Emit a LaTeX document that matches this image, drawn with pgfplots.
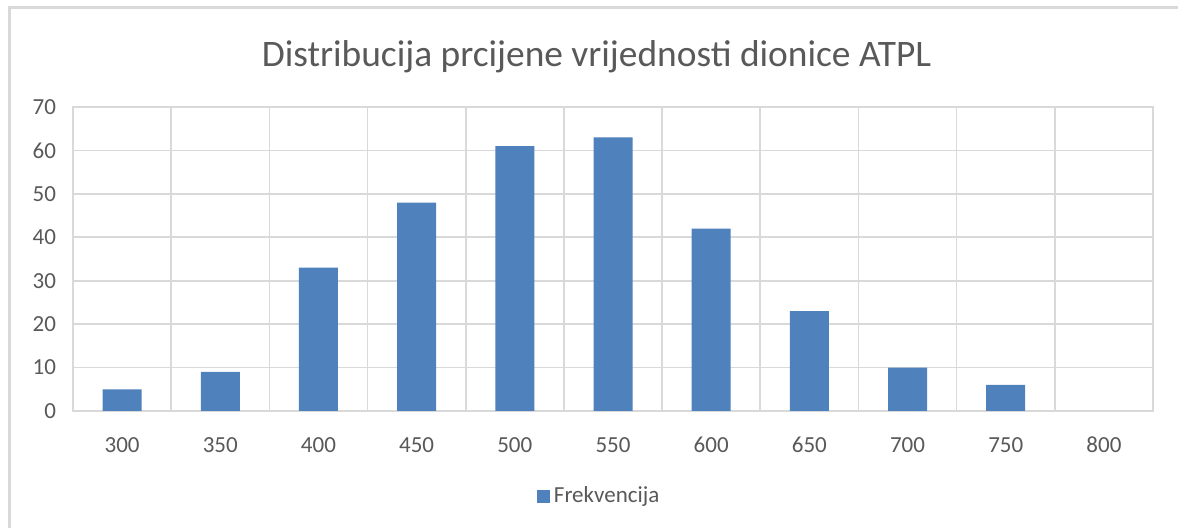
\documentclass[border=0pt]{standalone}
\usepackage{pgfplots}
\pgfplotsset{compat=1.18}
\usepackage{fontspec}
\setmainfont{Carlito}
\definecolor{barblue}{HTML}{4F81BD}
\definecolor{gridgray}{HTML}{D9D9D9}
\definecolor{txtgray}{HTML}{595959}
\begin{document}
\begin{tikzpicture}[x=0.5pt,y=0.5pt]
\path[use as bounding box] (0,0) rectangle (1178,528);
\fill[white] (0,0) rectangle (1178,528);
\draw[gridgray,line width=1.2pt] (9.5,0) -- (9.5,520.5) -- (1178,520.5);
\node[anchor=base,text=txtgray,font=\fontsize{18.7}{22}\selectfont] at (596.5,461) {Distribucija prcijene vrijednosti dionice ATPL};
\begin{axis}[
  at={(36.5pt,58.5pt)}, anchor=south west,
  scale only axis, width=540pt, height=152pt,
  xmin=-0.5, xmax=10.5, ymin=0, ymax=70,
  ytick={0,10,...,70},
  xtick={0,...,10},
  xticklabels={300,350,400,450,500,550,600,650,700,750,800},
  extra x ticks={-0.5,0.5,...,10.5},
  extra x tick labels={},
  extra x tick style={grid=major, major tick length=0pt},
  major tick length=0pt,
  ymajorgrids,
  grid style={gridgray, line width=0.8pt},
  axis line style={gridgray, line width=0.8pt},
  tick label style={text=txtgray, font=\fontsize{11.5}{13}\selectfont},
  /pgf/number format/assume math mode=true,
  xticklabel style={yshift=-9pt, text height=8pt, text depth=0pt},
  yticklabel style={xshift=-5pt},
  legend style={at={(0.488,-0.28)}, anchor=center, draw=none, fill=none,
    font=\fontsize{11.5}{13}\selectfont, text=txtgray,
    /tikz/every even column/.append style={column sep=2pt}},
  legend image code/.code={\fill[barblue] (0pt,-3.3pt) rectangle (6.6pt,3.3pt);},
]
\addplot[ybar, bar width=19.5pt, fill=barblue, draw=none] coordinates {
(0,5) (1,9) (2,33) (3,48) (4,61) (5,63) (6,42) (7,23) (8,10) (9,6)
};
\addlegendentry{Frekvencija}
\end{axis}
\end{tikzpicture}
\end{document}
